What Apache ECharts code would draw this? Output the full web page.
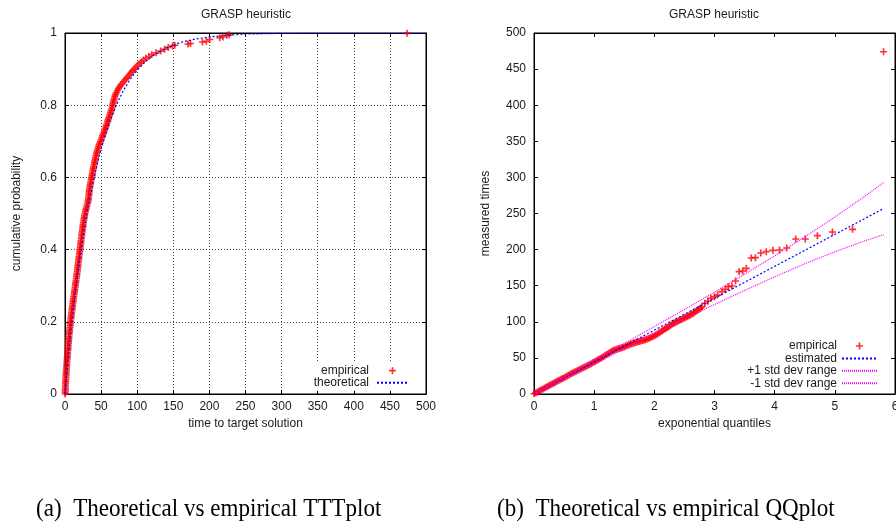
<!DOCTYPE html>
<html>
<head>
<meta charset="utf-8">
<script src="https://cdn.jsdelivr.net/npm/echarts@6/dist/echarts.min.js"></script>
<style>
html,body{margin:0;padding:0;background:#fff;}
#chart{width:896px;height:525px;}
</style>
</head>
<body>
<div id="chart"></div>
<script>
// ---- (a) TTT plot: empirical points (time, cumulative probability) ----
const tttTime = [0.2,0.3,0.4,0.5,0.6,0.7,0.8,1.0,1.1,1.2,1.4,1.5,1.7,1.9,2.0,2.2,2.4,2.6,2.7,2.9,
  3.1,3.3,3.5,3.7,3.9,4.1,4.3,4.5,4.7,4.9,5.1,5.4,5.6,5.8,6.1,6.4,6.6,6.9,7.2,7.4,
  7.7,8.0,8.3,8.6,8.9,9.2,9.5,9.8,10.1,10.5,10.8,11.1,11.5,11.8,12.2,12.5,12.9,13.3,13.6,14.0,
  14.3,14.6,15.0,15.3,15.7,16.0,16.4,16.7,17.0,17.3,17.6,17.9,18.2,18.5,18.8,19.1,19.4,19.8,20.1,20.4,
  20.7,21.1,21.4,21.7,22.0,22.3,22.6,22.9,23.2,23.5,23.8,24.2,24.5,24.9,25.2,25.5,25.9,26.3,26.8,27.2,
  27.7,28.2,28.8,29.5,30.2,30.9,31.6,32.0,32.4,32.7,33.0,33.3,33.6,33.8,34.1,34.5,35.0,35.5,36.0,36.4,
  36.9,37.4,37.9,38.3,38.8,39.3,39.8,40.3,40.8,41.3,41.9,42.4,42.9,43.5,44.2,44.9,45.6,46.4,47.2,48.2,
  49.2,50.2,51.1,52.0,53.0,53.9,54.8,55.7,56.6,57.4,58.2,59.0,59.8,60.6,61.5,62.3,63.2,64.0,64.8,65.4,
  66.0,66.5,67.1,67.7,68.4,69.2,70.0,71.2,72.5,73.8,75.2,77.0,79.0,81.1,83.3,85.3,87.4,89.4,91.5,93.5,
  95.6,98.0,100.5,103.1,105.8,108.9,112.0,116.0,120.0,
  126,132.5,138,143,149,152,170.4,173.7,190.3,195.8,200.4,214.3,218.8,224.4,227.5,473.7];
const tttProb = [0,0.005,0.01,0.015,0.02,0.025,0.03,0.035,0.04,0.045,0.05,0.055,0.06,0.065,0.07,0.075,0.08,0.085,0.09,0.095,
  0.10,0.105,0.11,0.115,0.12,0.125,0.13,0.135,0.14,0.145,0.15,0.155,0.16,0.165,0.17,0.175,0.18,0.185,0.19,0.195,
  0.20,0.205,0.21,0.215,0.22,0.225,0.23,0.235,0.24,0.245,0.25,0.255,0.26,0.265,0.27,0.275,0.28,0.285,0.29,0.295,
  0.30,0.305,0.31,0.315,0.32,0.325,0.33,0.335,0.34,0.345,0.35,0.355,0.36,0.365,0.37,0.375,0.38,0.385,0.39,0.395,
  0.40,0.405,0.41,0.415,0.42,0.425,0.43,0.435,0.44,0.445,0.45,0.455,0.46,0.465,0.47,0.475,0.48,0.485,0.49,0.495,
  0.50,0.505,0.51,0.515,0.52,0.525,0.53,0.535,0.54,0.545,0.55,0.555,0.56,0.565,0.57,0.575,0.58,0.585,0.59,0.595,
  0.60,0.605,0.61,0.615,0.62,0.625,0.63,0.635,0.64,0.645,0.65,0.655,0.66,0.665,0.67,0.675,0.68,0.685,0.69,0.695,
  0.70,0.705,0.71,0.715,0.72,0.725,0.73,0.735,0.74,0.745,0.75,0.755,0.76,0.765,0.77,0.775,0.78,0.785,0.79,0.795,
  0.80,0.805,0.81,0.815,0.82,0.825,0.83,0.835,0.84,0.845,0.85,0.855,0.86,0.865,0.87,0.875,0.88,0.885,0.89,0.895,
  0.90,0.905,0.91,0.915,0.92,0.925,0.93,0.935,0.94,
  0.945,0.95,0.955,0.96,0.964,0.966,0.9695,0.971,0.975,0.977,0.982,0.987,0.989,0.9936,0.995,0.999];
// theoretical curve
const theoTime = [0,2.5,5,7.5,10,15,20,25,30,35,40,45,50,60,70,80,90,100,110,120,140,160,180,200,225,250,300,350,400,500];
const theoProb = [0,0.055,0.107,0.157,0.203,0.289,0.365,0.433,0.494,0.549,0.597,0.640,0.679,0.744,0.796,0.838,0.871,0.897,0.918,0.935,0.958,0.974,0.983,0.989,0.994,0.997,0.999,0.9997,1,1];

// ---- (b) QQ plot: empirical points (exponential quantile, measured time) ----
const qqQuantile = [0,0.025,0.05,0.075,0.10,0.125,0.15,0.175,0.20,0.225,0.25,0.275,0.30,0.325,0.35,0.375,0.40,0.425,0.45,0.475,
  0.50,0.525,0.55,0.575,0.60,0.625,0.65,0.675,0.70,0.725,0.75,0.775,0.80,0.825,0.85,0.875,0.90,0.925,0.95,0.975,
  1.00,1.025,1.05,1.075,1.10,1.125,1.15,1.175,1.20,1.225,1.25,1.275,1.30,1.325,1.35,1.375,1.40,1.425,1.45,1.475,
  1.50,1.525,1.55,1.575,1.60,1.625,1.65,1.675,1.70,1.725,1.75,1.775,1.80,1.825,1.85,1.875,1.90,1.925,1.95,1.975,
  2.00,2.025,2.05,2.075,2.10,2.125,2.15,2.175,2.20,2.225,2.25,2.275,2.30,2.325,2.35,2.375,2.40,2.425,2.45,2.475,
  2.50,2.525,2.55,2.575,2.60,2.625,2.65,2.675,2.70,2.725,2.75,2.77,
  2.79,2.84,2.89,2.94,3.00,3.05,3.12,3.18,3.23,3.29,3.35,3.41,3.47,3.53,3.61,3.68,3.77,3.86,3.97,4.08,
  4.20,4.35,4.51,4.71,4.96,5.295,5.81];
const qqTime = [0.3,1.4,2.5,3.6,4.8,5.9,7.0,8.2,9.3,10.4,11.6,12.7,13.8,14.9,16.0,17.2,18.3,19.3,20.4,21.5,
  22.6,23.7,24.9,26.0,27.2,28.3,29.4,30.5,31.6,32.6,33.6,34.6,35.6,36.6,37.6,38.7,39.8,40.9,42.0,43.2,
  44.4,45.5,46.6,47.8,49.0,50.3,51.6,52.9,54.2,55.5,56.8,58.1,59.4,60.5,61.4,62.0,62.6,63.2,63.8,64.5,
  65.2,66.2,67.2,68.0,68.8,69.5,70.2,70.9,71.6,72.2,72.8,73.4,74.0,74.6,75.2,76.0,76.8,77.7,78.6,79.6,
  80.6,81.8,83.0,84.4,85.8,87.2,88.6,89.9,91.2,92.6,94.0,95.4,96.8,98.0,99.2,100.2,101.2,102.2,103.2,104.2,
  105.2,106.2,107.2,108.3,109.4,110.7,112.0,113.5,115.0,116.3,117.6,119.0,
  120.9,125.6,128.8,132.5,134.8,137.0,141.7,145.0,148.6,149.6,156.5,169.4,170.4,174.1,188.4,188.8,195.3,197.1,199.0,199.4,
  202.2,214.7,214.7,219.3,224.4,228.1,474];
// estimated line and +/- 1 std dev range
const estQuantile = [0,5.81];
const estTime = [0,256.8];
const stdQuantile = [0,0.5,1,1.5,2,2.5,3,3.5,4,4.5,5,5.5,5.81];
const stdPlus  = [0,23.7,46.8,70.0,93.4,117.1,141.2,165.9,191.3,217.6,245.0,274.0,292.9];
const stdMinus = [0,20.5,41.6,62.6,83.4,103.9,124.0,143.5,162.3,180.3,197.0,212.2,220.7];

// ---- texts ----
const plotTitle = 'GRASP heuristic';
const captionA = '(a)  Theoretical vs empirical TTTplot';
const captionB = '(b)  Theoretical vs empirical QQplot';

const SANS = '"Liberation Sans", Arial, Helvetica, sans-serif';
const SERIF = '"Liberation Serif", "Times New Roman", serif';
const PLUS = 'path://M3.8,0H6.2V3.8H10V6.2H6.2V10H3.8V6.2H0V3.8H3.8Z';
const zip = (a, b) => a.map((v, i) => [v, b[i]]);

const chart = echarts.init(document.getElementById('chart'), null, {renderer: 'canvas'});

const labelStyle = (margin) => ({fontFamily: SANS, fontSize: 12, color: '#1a1a1a', margin});
function axis(gridIndex, pos, min, max, interval, opts) {
  const isMain = pos === 'bottom' || pos === 'left';
  return Object.assign({
    type: 'value', gridIndex, position: pos, min, max, interval,
    axisLine: {show: true, onZero: false, lineStyle: {color: '#000', width: 1}},
    axisTick: {show: true, inside: true, length: 4, lineStyle: {color: '#000'}},
    axisLabel: {show: isMain, fontFamily: SANS, fontSize: 12, color: '#1a1a1a'},
    splitLine: {show: false}
  }, opts || {});
}
const gridLine = {show: true, lineStyle: {color: '#444', width: 1, type: [1, 2]}};
const nameStyle = {fontFamily: SANS, fontSize: 12, color: '#1a1a1a'};
const noSym = {opacity: 0};

chart.setOption({
  animation: false,
  textStyle: {fontFamily: SANS},
  grid: [
    {left: 65, top: 33, width: 361, height: 361, show: true, borderColor: '#000', borderWidth: 1, containLabel: false, outerBoundsMode: 'none'},
    {left: 534, top: 33, width: 361, height: 361, show: true, borderColor: '#000', borderWidth: 1, containLabel: false, outerBoundsMode: 'none'}
  ],
  xAxis: [
    axis(0, 'bottom', 0, 500, 50, {splitLine: gridLine, axisLabel: labelStyle(7),
      name: 'time to target solution', nameLocation: 'middle', nameGap: 24, nameTextStyle: nameStyle}),
    axis(0, 'top', 0, 500, 50),
    axis(1, 'bottom', 0, 6, 1, {axisLabel: labelStyle(7),
      name: 'exponential quantiles', nameLocation: 'middle', nameGap: 24, nameTextStyle: nameStyle}),
    axis(1, 'top', 0, 6, 1)
  ],
  yAxis: [
    axis(0, 'left', 0, 1, 0.2, {splitLine: gridLine, axisLabel: labelStyle(8),
      name: 'cumulative probability', nameLocation: 'middle', nameGap: 42, nameTextStyle: nameStyle}),
    axis(0, 'right', 0, 1, 0.2),
    axis(1, 'left', 0, 500, 50, {axisLabel: labelStyle(8),
      name: 'measured times', nameLocation: 'middle', nameGap: 42, nameTextStyle: nameStyle}),
    axis(1, 'right', 0, 500, 50)
  ],
  legend: [
    {
      orient: 'vertical', align: 'right', right: 483, top: 362.7,
      itemWidth: 31, itemHeight: 7, itemGap: 0, padding: [2, 4, 2, 4],
      backgroundColor: '#fff', selectedMode: false,
      textStyle: {fontFamily: SANS, fontSize: 12, color: '#1a1a1a', lineHeight: 12, padding: [0, 3, 0, 0]},
      data: [{name: 'empirical', icon: PLUS}, {name: 'theoretical', itemStyle: noSym}]
    },
    {
      orient: 'vertical', align: 'right', right: 18, top: 340,
      itemWidth: 35, itemHeight: 7, itemGap: 0.4, padding: 0, selectedMode: false,
      textStyle: {fontFamily: SANS, fontSize: 12, color: '#1a1a1a', lineHeight: 12},
      data: [{name: 'empirical', icon: PLUS}, {name: 'estimated', itemStyle: noSym},
        {name: '+1 std dev range', itemStyle: noSym}, {name: '-1 std dev range', itemStyle: noSym}]
    }
  ],
  graphic: [
    {type: 'text', x: 246, y: 15, style: {text: plotTitle, font: '12px ' + SANS, fill: '#1a1a1a', align: 'center', verticalAlign: 'middle'}},
    {type: 'text', x: 714, y: 15, style: {text: plotTitle, font: '12px ' + SANS, fill: '#1a1a1a', align: 'center', verticalAlign: 'middle'}},
    {type: 'text', x: 36, y: 509, scaleX: 0.923, style: {text: captionA, font: '25px ' + SERIF, fill: '#000', align: 'left', verticalAlign: 'middle'}},
    {type: 'text', x: 497, y: 509, scaleX: 0.923, style: {text: captionB, font: '25px ' + SERIF, fill: '#000', align: 'left', verticalAlign: 'middle'}}
  ],
  series: [
    {
      name: 'empirical', type: 'scatter', xAxisIndex: 0, yAxisIndex: 0,
      symbol: PLUS, symbolSize: 7, itemStyle: {color: '#ff0000'}, z: 2,
      data: zip(tttTime, tttProb)
    },
    {
      name: 'theoretical', type: 'line', xAxisIndex: 0, yAxisIndex: 0,
      showSymbol: false, symbol: 'none', smooth: false, z: 3,
      itemStyle: {color: '#0000ff'}, lineStyle: {color: '#0000ff', width: 1.2, type: [2, 2]},
      data: zip(theoTime, theoProb)
    },
    {
      name: 'empirical', type: 'scatter', xAxisIndex: 2, yAxisIndex: 2,
      symbol: PLUS, symbolSize: 7, itemStyle: {color: '#ff0000'}, z: 2,
      data: zip(qqQuantile, qqTime)
    },
    {
      name: 'estimated', type: 'line', xAxisIndex: 2, yAxisIndex: 2,
      showSymbol: false, symbol: 'none', z: 3,
      itemStyle: {color: '#0000ff'}, lineStyle: {color: '#0000ff', width: 1.2, type: [2, 2]},
      data: zip(estQuantile, estTime)
    },
    {
      name: '+1 std dev range', type: 'line', xAxisIndex: 2, yAxisIndex: 2,
      showSymbol: false, symbol: 'none', z: 3,
      itemStyle: {color: '#ff00ff'}, lineStyle: {color: '#ff00ff', width: 1.2, type: [1, 1]},
      data: zip(stdQuantile, stdPlus)
    },
    {
      name: '-1 std dev range', type: 'line', xAxisIndex: 2, yAxisIndex: 2,
      showSymbol: false, symbol: 'none', z: 3,
      itemStyle: {color: '#ff00ff'}, lineStyle: {color: '#ff00ff', width: 1.2, type: [1, 1]},
      data: zip(stdQuantile, stdMinus)
    }
  ]
});
</script>
</body>
</html>
